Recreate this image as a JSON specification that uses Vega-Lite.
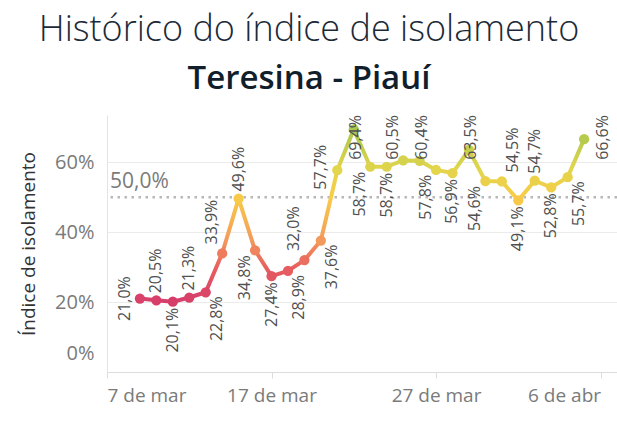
{
  "$schema": "https://vega.github.io/schema/vega-lite/v6.json",
  "autosize": {"type": "none"},
  "padding": {"left": 107, "top": 115, "right": 0, "bottom": 57},
  "width": 510,
  "height": 257,
  "background": "white",
  "title": {
    "text": "Histórico do índice de isolamento",
    "subtitle": "Teresina - Piauí",
    "anchor": "middle",
    "frame": "group",
    "dx": -53,
    "offset": 18,
    "font": "Open Sans",
    "fontSize": 36,
    "fontWeight": 300,
    "color": "#1b2a38",
    "subtitleFont": "Open Sans",
    "subtitleFontSize": 33,
    "subtitleFontWeight": 600,
    "subtitleColor": "#111e2b",
    "subtitlePadding": 14
  },
  "data": {
    "values": [
      {"date": "2020-03-09", "v": 0.210},
      {"date": "2020-03-10", "v": 0.205},
      {"date": "2020-03-11", "v": 0.201},
      {"date": "2020-03-12", "v": 0.213},
      {"date": "2020-03-13", "v": 0.228},
      {"date": "2020-03-14", "v": 0.339},
      {"date": "2020-03-15", "v": 0.496},
      {"date": "2020-03-16", "v": 0.348},
      {"date": "2020-03-17", "v": 0.274},
      {"date": "2020-03-18", "v": 0.289},
      {"date": "2020-03-19", "v": 0.320},
      {"date": "2020-03-20", "v": 0.376},
      {"date": "2020-03-21", "v": 0.577},
      {"date": "2020-03-22", "v": 0.694},
      {"date": "2020-03-23", "v": 0.587},
      {"date": "2020-03-24", "v": 0.587},
      {"date": "2020-03-25", "v": 0.605},
      {"date": "2020-03-26", "v": 0.604},
      {"date": "2020-03-27", "v": 0.578},
      {"date": "2020-03-28", "v": 0.569},
      {"date": "2020-03-29", "v": 0.635},
      {"date": "2020-03-30", "v": 0.546},
      {"date": "2020-03-31", "v": 0.545},
      {"date": "2020-04-01", "v": 0.491},
      {"date": "2020-04-02", "v": 0.547},
      {"date": "2020-04-03", "v": 0.528},
      {"date": "2020-04-04", "v": 0.557},
      {"date": "2020-04-05", "v": 0.666}
    ]
  },
  "layer": [
    {
      "data": {"values": [{"ref": 0.5}]},
      "mark": {"type": "rule", "color": "#b8b8b8", "strokeWidth": 2.5, "strokeDash": [2.5, 4.5]},
      "encoding": {"y": {"field": "ref", "type": "quantitative"}}
    },
    {
      "data": {"values": [{"ref": 0.5}]},
      "mark": {"type": "text", "align": "left", "baseline": "bottom", "dx": 3, "dy": -5, "angle": 0, "fontSize": 21, "fill": "#7a7a7a"},
      "encoding": {
        "x": {"datum": {"year": 2020, "month": 3, "date": 7, "utc": true}, "type": "temporal"},
        "y": {"field": "ref", "type": "quantitative"},
        "text": {"field": "ref", "type": "quantitative", "format": ".1%"}
      }
    },
    {
      "encoding": {
        "x": {
          "field": "date", "type": "temporal",
          "scale": {"type": "utc", "domain": [{"year": 2020, "month": 3, "date": 7, "utc": true}, {"year": 2020, "month": 4, "date": 7, "utc": true}]},
          "axis": {
            "title": null, "format": "%-d de %b", "grid": false,
            "values": [
              {"year": 2020, "month": 3, "date": 7, "utc": true},
              {"year": 2020, "month": 3, "date": 17, "utc": true},
              {"year": 2020, "month": 3, "date": 27, "utc": true},
              {"year": 2020, "month": 4, "date": 6, "utc": true}
            ],
            "labelFlush": 25, "labelFontSize": 19, "labelColor": "#7a7a7a", "labelPadding": 8,
            "domainColor": "#dcdcdc", "tickColor": "#dcdcdc", "tickSize": 6, "labelFont": "Open Sans"
          }
        },
        "y": {
          "field": "v", "type": "quantitative",
          "scale": {"domain": [0, 0.735], "nice": false, "zero": true},
          "axis": {
            "title": "Índice de isolamento", "values": [0, 0.2, 0.4, 0.6], "format": ".0%",
            "grid": true, "gridColor": "#ebebeb", "ticks": false, "domainColor": "#e3e3e3",
            "labelFontSize": 20, "labelColor": "#7a7a7a", "labelPadding": 13, "labelFlush": true, "labelFlushOffset": -9,
            "labelFont": "Open Sans",
            "titleFont": "Open Sans", "titleFontSize": 19, "titleFontWeight": "normal", "titleColor": "#333333", "titlePadding": 16
          }
        }
      },
      "layer": [
        {
          "mark": {
            "type": "line", "strokeWidth": 4, "strokeJoin": "round", "strokeCap": "round",
            "color": {
              "gradient": "linear", "x1": 0, "y1": 1, "x2": 0, "y2": 0,
              "stops": [
                {"offset": 0, "color": "#d63e6a"},
                {"offset": 0.201, "color": "#e8605f"},
                {"offset": 0.363, "color": "#f39c5b"},
                {"offset": 0.606, "color": "#f8cc48"},
                {"offset": 0.769, "color": "#e2d54c"},
                {"offset": 1, "color": "#a8c84f"}
              ]
            }
          }
        },
        {
          "mark": {"type": "circle", "size": 105, "opacity": 1},
          "encoding": {
            "color": {
              "field": "v", "type": "quantitative", "legend": null,
              "scale": {"domain": [0.201, 0.30, 0.38, 0.50, 0.58, 0.694], "range": ["#d63e6a", "#e8605f", "#f39c5b", "#f8cc48", "#e2d54c", "#a8c84f"], "interpolate": "rgb"}
            }
          }
        },
        {
          "transform": [{"window": [{"op": "row_number", "as": "i"}]}, {"filter": {"field": "i", "oneOf": [2, 4, 7, 25]}}],
          "mark": {"type": "text", "align": "left", "baseline": "middle", "dx": 7},
          "encoding": {"text": {"field": "v", "type": "quantitative", "format": ".1%"}}
        },
        {
          "transform": [{"window": [{"op": "row_number", "as": "i"}]}, {"filter": {"field": "i", "oneOf": [23]}}],
          "mark": {"type": "text", "align": "left", "baseline": "middle", "dx": 9, "dy": 11},
          "encoding": {"text": {"field": "v", "type": "quantitative", "format": ".1%"}}
        },
        {
          "transform": [{"window": [{"op": "row_number", "as": "i"}]}, {"filter": {"field": "i", "oneOf": [6, 11]}}],
          "mark": {"type": "text", "align": "left", "baseline": "middle", "dx": 9, "dy": -10},
          "encoding": {"text": {"field": "v", "type": "quantitative", "format": ".1%"}}
        },
        {
          "transform": [{"window": [{"op": "row_number", "as": "i"}]}, {"filter": {"field": "i", "oneOf": [14, 18, 21]}}],
          "mark": {"type": "text", "align": "right", "baseline": "middle", "dy": 2},
          "encoding": {"y": {"datum": 0.735, "type": "quantitative"}, "text": {"field": "v", "type": "quantitative", "format": ".1%"}}
        },
        {
          "transform": [{"window": [{"op": "row_number", "as": "i"}]}, {"filter": {"field": "i", "oneOf": [17]}}],
          "mark": {"type": "text", "align": "right", "baseline": "middle", "dy": -10},
          "encoding": {"y": {"datum": 0.735, "type": "quantitative"}, "text": {"field": "v", "type": "quantitative", "format": ".1%"}}
        },
        {
          "transform": [{"window": [{"op": "row_number", "as": "i"}]}, {"filter": {"field": "i", "oneOf": [28]}}],
          "mark": {"type": "text", "align": "right", "baseline": "middle", "dy": 19},
          "encoding": {"y": {"datum": 0.735, "type": "quantitative"}, "text": {"field": "v", "type": "quantitative", "format": ".1%"}}
        },
        {
          "transform": [{"window": [{"op": "row_number", "as": "i"}]}, {"filter": {"field": "i", "oneOf": [3, 9, 16, 20, 24, 26]}}],
          "mark": {"type": "text", "align": "right", "baseline": "middle", "dx": -6},
          "encoding": {"text": {"field": "v", "type": "quantitative", "format": ".1%"}}
        },
        {
          "transform": [{"window": [{"op": "row_number", "as": "i"}]}, {"filter": {"field": "i", "oneOf": [5, 10, 12, 27]}}],
          "mark": {"type": "text", "align": "right", "baseline": "middle", "dx": -4, "dy": 11},
          "encoding": {"text": {"field": "v", "type": "quantitative", "format": ".1%"}}
        },
        {
          "transform": [{"window": [{"op": "row_number", "as": "i"}]}, {"filter": {"field": "i", "oneOf": [8, 15, 19, 22]}}],
          "mark": {"type": "text", "align": "right", "baseline": "middle", "dx": -5, "dy": -10},
          "encoding": {"text": {"field": "v", "type": "quantitative", "format": ".1%"}}
        },
        {
          "transform": [{"window": [{"op": "row_number", "as": "i"}]}, {"filter": {"field": "i", "oneOf": [1]}}],
          "mark": {"type": "text", "align": "center", "baseline": "middle", "dy": -15},
          "encoding": {"text": {"field": "v", "type": "quantitative", "format": ".1%"}}
        },
        {
          "transform": [{"window": [{"op": "row_number", "as": "i"}]}, {"filter": {"field": "i", "oneOf": [13]}}],
          "mark": {"type": "text", "align": "center", "baseline": "middle", "dx": 3, "dy": -16},
          "encoding": {"text": {"field": "v", "type": "quantitative", "format": ".1%"}}
        }
      ]
    }
  ],
  "config": {
    "view": {"stroke": null},
    "font": "Open Sans",
    "text": {"font": "Open Sans", "fontSize": 16, "fill": "#505050", "angle": 270},
    "locale": {
      "number": {"decimal": ",", "thousands": ".", "grouping": [3], "currency": ["R$", ""]},
      "time": {
        "dateTime": "%A, %e de %B de %Y. %X",
        "date": "%d/%m/%Y",
        "time": "%H:%M:%S",
        "periods": ["AM", "PM"],
        "days": ["Domingo", "Segunda", "Terça", "Quarta", "Quinta", "Sexta", "Sábado"],
        "shortDays": ["Dom", "Seg", "Ter", "Qua", "Qui", "Sex", "Sáb"],
        "months": ["Janeiro", "Fevereiro", "Março", "Abril", "Maio", "Junho", "Julho", "Agosto", "Setembro", "Outubro", "Novembro", "Dezembro"],
        "shortMonths": ["jan", "fev", "mar", "abr", "mai", "jun", "jul", "ago", "set", "out", "nov", "dez"]
      }
    }
  }
}
